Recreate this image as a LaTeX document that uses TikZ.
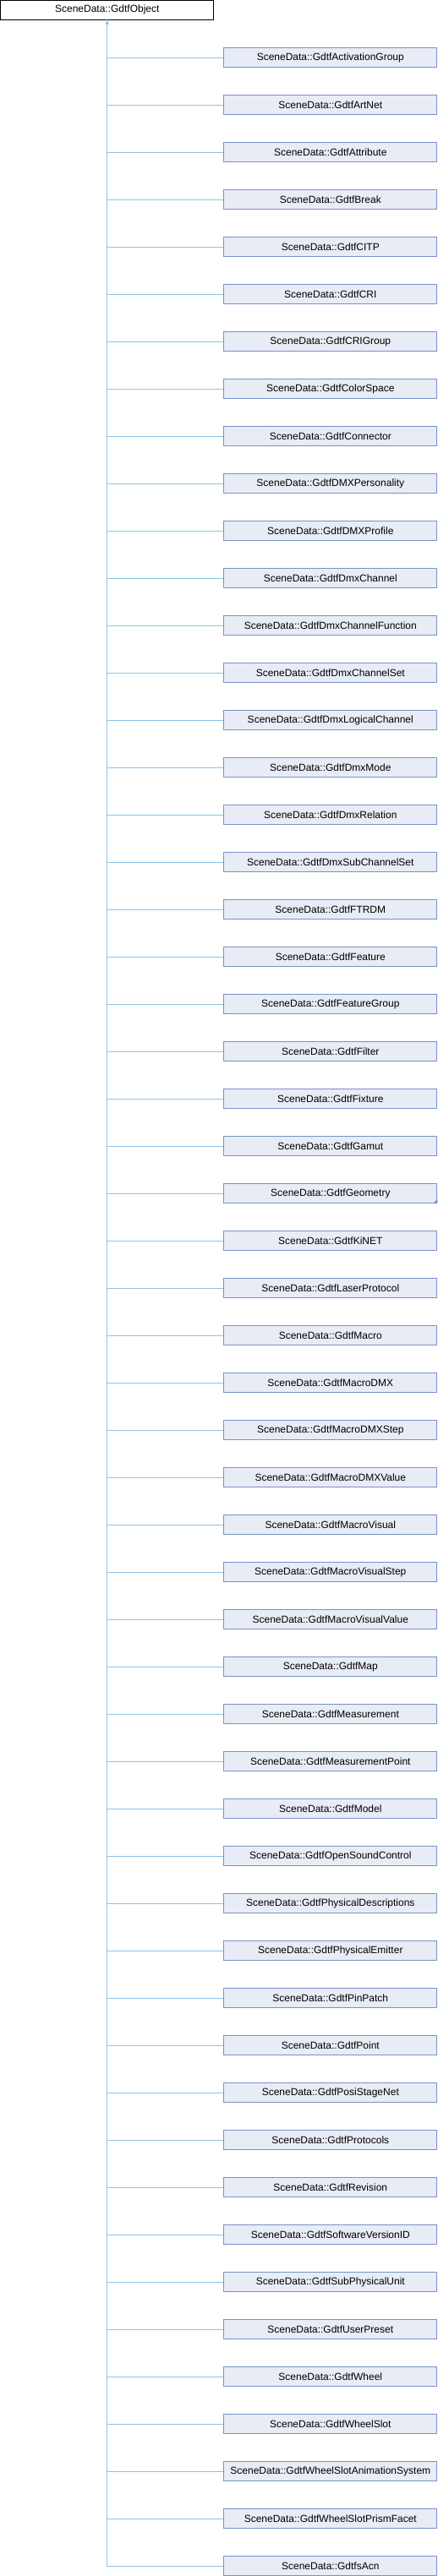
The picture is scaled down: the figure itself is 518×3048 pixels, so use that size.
\documentclass[tikz,border=0pt]{standalone}
\usepackage{fontspec}
\setmainfont{Liberation Sans}
\usetikzlibrary{arrows.meta}

\definecolor{edgeblue}{RGB}{140,196,234}
\definecolor{boxline}{RGB}{122,145,200}
\definecolor{boxfill}{RGB}{232,236,245}

\begin{document}
\begin{tikzpicture}[
    x=1pt, y=-1pt,
    every node/.style={font=\fontsize{12}{14}\selectfont},
    base/.style={draw=black, fill=white, line width=1pt, minimum width=252pt, minimum height=22.5pt, inner sep=0pt},
    cls/.style={draw=boxline, fill=boxfill, line width=1pt, minimum width=252pt, minimum height=22.5pt, inner sep=0pt},
    edge/.style={draw=edgeblue, line width=0.9pt}
  ]
  \useasboundingbox (0,0) rectangle (518,3048);
  % Base class
  \node[base] (Object) at (126.8,11.8) {SceneData::GdtfObject};
  % Derived classes
  \node[cls] (ActivationGroup)        at (390.8,68)   {SceneData::GdtfActivationGroup};
  \node[cls] (ArtNet)                 at (390.8,124)  {SceneData::GdtfArtNet};
  \node[cls] (Attribute)              at (390.8,180)  {SceneData::GdtfAttribute};
  \node[cls] (Break)                  at (390.8,236)  {SceneData::GdtfBreak};
  \node[cls] (CITP)                   at (390.8,292)  {SceneData::GdtfCITP};
  \node[cls] (CRI)                    at (390.8,348)  {SceneData::GdtfCRI};
  \node[cls] (CRIGroup)               at (390.8,404)  {SceneData::GdtfCRIGroup};
  \node[cls] (ColorSpace)             at (390.8,460)  {SceneData::GdtfColorSpace};
  \node[cls] (Connector)              at (390.8,516)  {SceneData::GdtfConnector};
  \node[cls] (DMXPersonality)         at (390.8,572)  {SceneData::GdtfDMXPersonality};
  \node[cls] (DMXProfile)             at (390.8,628)  {SceneData::GdtfDMXProfile};
  \node[cls] (DmxChannel)             at (390.8,684)  {SceneData::GdtfDmxChannel};
  \node[cls] (DmxChannelFunction)     at (390.8,740)  {SceneData::GdtfDmxChannelFunction};
  \node[cls] (DmxChannelSet)          at (390.8,796)  {SceneData::GdtfDmxChannelSet};
  \node[cls] (DmxLogicalChannel)      at (390.8,852)  {SceneData::GdtfDmxLogicalChannel};
  \node[cls] (DmxMode)                at (390.8,908)  {SceneData::GdtfDmxMode};
  \node[cls] (DmxRelation)            at (390.8,964)  {SceneData::GdtfDmxRelation};
  \node[cls] (DmxSubChannelSet)       at (390.8,1020) {SceneData::GdtfDmxSubChannelSet};
  \node[cls] (FTRDM)                  at (390.8,1076) {SceneData::GdtfFTRDM};
  \node[cls] (Feature)                at (390.8,1132) {SceneData::GdtfFeature};
  \node[cls] (FeatureGroup)           at (390.8,1188) {SceneData::GdtfFeatureGroup};
  \node[cls] (Filter)                 at (390.8,1244) {SceneData::GdtfFilter};
  \node[cls] (Fixture)                at (390.8,1300) {SceneData::GdtfFixture};
  \node[cls] (Gamut)                  at (390.8,1356) {SceneData::GdtfGamut};
  \node[cls] (Geometry)               at (390.8,1412) {SceneData::GdtfGeometry};
  \node[cls] (KiNET)                  at (390.8,1468) {SceneData::GdtfKiNET};
  \node[cls] (LaserProtocol)          at (390.8,1524) {SceneData::GdtfLaserProtocol};
  \node[cls] (Macro)                  at (390.8,1580) {SceneData::GdtfMacro};
  \node[cls] (MacroDMX)               at (390.8,1636) {SceneData::GdtfMacroDMX};
  \node[cls] (MacroDMXStep)           at (390.8,1692) {SceneData::GdtfMacroDMXStep};
  \node[cls] (MacroDMXValue)          at (390.8,1748) {SceneData::GdtfMacroDMXValue};
  \node[cls] (MacroVisual)            at (390.8,1804) {SceneData::GdtfMacroVisual};
  \node[cls] (MacroVisualStep)        at (390.8,1860) {SceneData::GdtfMacroVisualStep};
  \node[cls] (MacroVisualValue)       at (390.8,1916) {SceneData::GdtfMacroVisualValue};
  \node[cls] (Map)                    at (390.8,1972) {SceneData::GdtfMap};
  \node[cls] (Measurement)            at (390.8,2028) {SceneData::GdtfMeasurement};
  \node[cls] (MeasurementPoint)       at (390.8,2084) {SceneData::GdtfMeasurementPoint};
  \node[cls] (Model)                  at (390.8,2140) {SceneData::GdtfModel};
  \node[cls] (OpenSoundControl)       at (390.8,2196) {SceneData::GdtfOpenSoundControl};
  \node[cls] (PhysicalDescriptions)   at (390.8,2252) {SceneData::GdtfPhysicalDescriptions};
  \node[cls] (PhysicalEmitter)        at (390.8,2308) {SceneData::GdtfPhysicalEmitter};
  \node[cls] (PinPatch)               at (390.8,2364) {SceneData::GdtfPinPatch};
  \node[cls] (Point)                  at (390.8,2420) {SceneData::GdtfPoint};
  \node[cls] (PosiStageNet)           at (390.8,2476) {SceneData::GdtfPosiStageNet};
  \node[cls] (Protocols)              at (390.8,2532) {SceneData::GdtfProtocols};
  \node[cls] (Revision)               at (390.8,2588) {SceneData::GdtfRevision};
  \node[cls] (SoftwareVersionID)      at (390.8,2644) {SceneData::GdtfSoftwareVersionID};
  \node[cls] (SubPhysicalUnit)        at (390.8,2700) {SceneData::GdtfSubPhysicalUnit};
  \node[cls] (UserPreset)             at (390.8,2756) {SceneData::GdtfUserPreset};
  \node[cls] (Wheel)                  at (390.8,2812) {SceneData::GdtfWheel};
  \node[cls] (WheelSlot)              at (390.8,2868) {SceneData::GdtfWheelSlot};
  \node[cls] (WheelSlotAnimationSystem) at (390.8,2924) {SceneData::GdtfWheelSlotAnimationSystem};
  \node[cls] (WheelSlotPrismFacet)    at (390.8,2980) {SceneData::GdtfWheelSlotPrismFacet};
  \node[cls] (sAcn)                   at (390.8,3036) {SceneData::GdtfsAcn};

  % Truncation mark
  \fill[boxline] (Geometry.south east) -- ++(-5,0) -- ++(5,-5) -- cycle;

  % Inheritance edges
  \draw[edge, {Triangle[length=5pt,width=4pt]}-] (Object.south) |- (sAcn.west);
  \draw[edge] (Object.south) |- (ActivationGroup.west);
  \draw[edge] (Object.south) |- (ArtNet.west);
  \draw[edge] (Object.south) |- (Attribute.west);
  \draw[edge] (Object.south) |- (Break.west);
  \draw[edge] (Object.south) |- (CITP.west);
  \draw[edge] (Object.south) |- (CRI.west);
  \draw[edge] (Object.south) |- (CRIGroup.west);
  \draw[edge] (Object.south) |- (ColorSpace.west);
  \draw[edge] (Object.south) |- (Connector.west);
  \draw[edge] (Object.south) |- (DMXPersonality.west);
  \draw[edge] (Object.south) |- (DMXProfile.west);
  \draw[edge] (Object.south) |- (DmxChannel.west);
  \draw[edge] (Object.south) |- (DmxChannelFunction.west);
  \draw[edge] (Object.south) |- (DmxChannelSet.west);
  \draw[edge] (Object.south) |- (DmxLogicalChannel.west);
  \draw[edge] (Object.south) |- (DmxMode.west);
  \draw[edge] (Object.south) |- (DmxRelation.west);
  \draw[edge] (Object.south) |- (DmxSubChannelSet.west);
  \draw[edge] (Object.south) |- (FTRDM.west);
  \draw[edge] (Object.south) |- (Feature.west);
  \draw[edge] (Object.south) |- (FeatureGroup.west);
  \draw[edge] (Object.south) |- (Filter.west);
  \draw[edge] (Object.south) |- (Fixture.west);
  \draw[edge] (Object.south) |- (Gamut.west);
  \draw[edge] (Object.south) |- (Geometry.west);
  \draw[edge] (Object.south) |- (KiNET.west);
  \draw[edge] (Object.south) |- (LaserProtocol.west);
  \draw[edge] (Object.south) |- (Macro.west);
  \draw[edge] (Object.south) |- (MacroDMX.west);
  \draw[edge] (Object.south) |- (MacroDMXStep.west);
  \draw[edge] (Object.south) |- (MacroDMXValue.west);
  \draw[edge] (Object.south) |- (MacroVisual.west);
  \draw[edge] (Object.south) |- (MacroVisualStep.west);
  \draw[edge] (Object.south) |- (MacroVisualValue.west);
  \draw[edge] (Object.south) |- (Map.west);
  \draw[edge] (Object.south) |- (Measurement.west);
  \draw[edge] (Object.south) |- (MeasurementPoint.west);
  \draw[edge] (Object.south) |- (Model.west);
  \draw[edge] (Object.south) |- (OpenSoundControl.west);
  \draw[edge] (Object.south) |- (PhysicalDescriptions.west);
  \draw[edge] (Object.south) |- (PhysicalEmitter.west);
  \draw[edge] (Object.south) |- (PinPatch.west);
  \draw[edge] (Object.south) |- (Point.west);
  \draw[edge] (Object.south) |- (PosiStageNet.west);
  \draw[edge] (Object.south) |- (Protocols.west);
  \draw[edge] (Object.south) |- (Revision.west);
  \draw[edge] (Object.south) |- (SoftwareVersionID.west);
  \draw[edge] (Object.south) |- (SubPhysicalUnit.west);
  \draw[edge] (Object.south) |- (UserPreset.west);
  \draw[edge] (Object.south) |- (Wheel.west);
  \draw[edge] (Object.south) |- (WheelSlot.west);
  \draw[edge] (Object.south) |- (WheelSlotAnimationSystem.west);
  \draw[edge] (Object.south) |- (WheelSlotPrismFacet.west);
\end{tikzpicture}
\end{document}
